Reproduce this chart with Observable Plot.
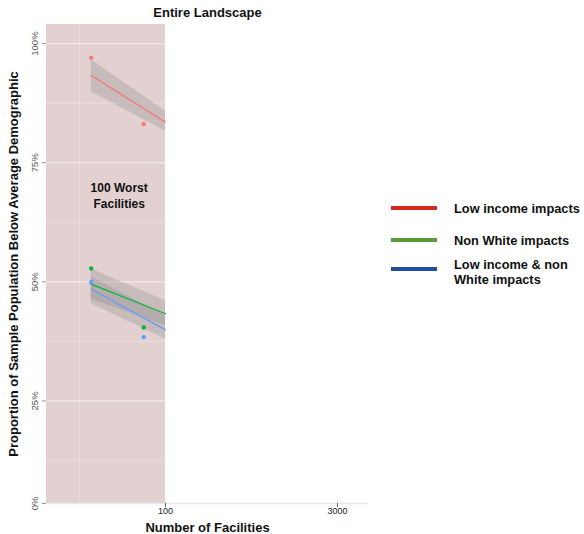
<!DOCTYPE html>
<html>
<head>
<meta charset="utf-8">
<script src="https://cdn.jsdelivr.net/npm/d3@7"></script>
<script src="https://cdn.jsdelivr.net/npm/@observablehq/plot@0.6"></script>
<style>
  html, body { margin: 0; padding: 0; background: #fff; }
  body { width: 584px; height: 534px; position: relative; overflow: hidden; font-family: "Liberation Sans", Arial, Helvetica, sans-serif; }
  #chart { position: absolute; left: 0; top: 0; }
  #legend { position: absolute; left: 391px; top: 0; }
  .swatch { position: absolute; left: 0; width: 46px; height: 4px; }
  .lab { position: absolute; left: 63px; font-weight: bold; font-size: 12.8px; line-height: 15px; color: #111; white-space: nowrap; }
</style>
</head>
<body>
<div id="chart"></div>
<div id="legend"></div>
<script>
// ---- data ----
const seriesNames = ["Low income impacts", "Non White impacts", "Low income & non White impacts"];
const pointColors = ["#F8766D", "#00BA38", "#619CFF"];
const legendColors = ["#d42a1e", "#5b9a3b", "#1f4e9c"];

const facilities = [23, 65];               // x positions of observed points
const lowIncome = [0.970, 0.831];
const nonWhite = [0.528, 0.404];
const lowIncomeNonWhite = [0.499, 0.384];

const fitX = [23, 100];                     // extent of fitted lines
const lowIncomeFit = [0.933, 0.835];
const lowIncomeLo = [0.899, 0.816];
const lowIncomeHi = [0.966, 0.858];
const nonWhiteFit = [0.495, 0.433];
const nonWhiteLo = [0.464, 0.408];
const nonWhiteHi = [0.527, 0.460];
const bothFit = [0.485, 0.399];
const bothLo = [0.454, 0.380];
const bothHi = [0.510, 0.429];

const xTicks = [100, 3000];
const yTicks = [0, 0.25, 0.5, 0.75, 1];
const yMinor = [0.125, 0.375, 0.625, 0.875];
const xGrid = [18.3, 100];
const worstRegion = [9.5, 100];
const xDomain = [9.5, 5540];
const yDomain = [0, 0.125, 1.04];

// ---- build tables ----
const obsSeries = [lowIncome, nonWhite, lowIncomeNonWhite];
const fitSeries = [[lowIncomeFit, lowIncomeLo, lowIncomeHi], [nonWhiteFit, nonWhiteLo, nonWhiteHi], [bothFit, bothLo, bothHi]];
const points = [];
obsSeries.forEach((arr, s) => arr.forEach((v, i) => points.push({s, x: facilities[i], y: v})));
const fits = [];
fitSeries.forEach(([m, lo, hi], s) => fitX.forEach((x, i) => fits.push({s, x, y: m[i], lo: lo[i], hi: hi[i]})));

const W = 584, H = 534;
const mL = 46, mR = 216, mT = 24, mB = 31;

const plot = Plot.plot({
  width: W, height: H,
  marginLeft: mL, marginRight: mR, marginTop: mT, marginBottom: mB,
  style: { fontFamily: '"Liberation Sans", Arial, Helvetica, sans-serif', background: "transparent", overflow: "visible" },
  x: { type: "log", domain: xDomain, range: [mL, W - mR] },
  y: { type: "linear", domain: yDomain, range: [H - mB, 460, mT] },
  marks: [
    // shaded "100 worst" region
    Plot.rect([0], { x1: worstRegion[0], x2: worstRegion[1], y1: yDomain[0], y2: yDomain[2], fill: "#e3d1d1" }),
    // grid within region
    Plot.ruleY(yMinor, { x1: worstRegion[0], x2: worstRegion[1], stroke: "#ffffff", strokeOpacity: 0.25, strokeWidth: 1 }),
    Plot.ruleY(yTicks.slice(1), { x1: worstRegion[0], x2: worstRegion[1], stroke: "#ffffff", strokeOpacity: 0.55, strokeWidth: 1.2 }),
    Plot.ruleX(xGrid.slice(0, 1), { y1: yDomain[0], y2: yDomain[2], stroke: "#ffffff", strokeOpacity: 0.25 }),
    // bottom axis line
    Plot.ruleY([0], { stroke: "#e8e8e8", strokeWidth: 1.5 }),
    // axes
    Plot.axisY({ ticks: yTicks, tickFormat: () => "", tickSize: 4, stroke: "#555", strokeOpacity: 0.6, label: null }),
    Plot.axisX({ ticks: xTicks, tickFormat: d => String(d), tickSize: 4, stroke: "#666", fontSize: 9, color: "#222", tickPadding: 0, label: null }),
    // y tick labels (rotated)
    Plot.text(yTicks, { y: d => d, frameAnchor: "left", dx: -12, rotate: -90, textAnchor: "middle", lineAnchor: "middle", text: d => d3.format(".0%")(d), fontSize: 9.5, fill: "#555" }),
    // confidence bands
    Plot.areaY(fits, { x: "x", y1: "lo", y2: "hi", z: "s", fill: "#8c8c8c", fillOpacity: 0.32 }),
    // fitted lines
    Plot.lineY(fits, { x: "x", y: "y", z: "s", stroke: d => pointColors[d.s], strokeWidth: 1.3 }),
    // observed points
    Plot.dot(points, { x: "x", y: "y", r: 2.2, fill: d => pointColors[d.s], stroke: "none" }),
    // annotation
    Plot.text(["100 Worst\nFacilities"], { x: 40, y: 0.683, fontSize: 12, fontWeight: "bold", fill: "#111", lineHeight: 1.35 }),
    // strip title
    Plot.text(["Entire Landscape"], { frameAnchor: "top", dy: -12, lineAnchor: "middle", fontSize: 13, fontWeight: "bold", fill: "#111" }),
    // axis titles
    Plot.text(["Number of Facilities"], { frameAnchor: "bottom", dy: 24, lineAnchor: "middle", fontSize: 13, fontWeight: "bold", fill: "#111" }),
    Plot.text(["Proportion of Sample Population Below Average Demographic"], { frameAnchor: "left", dx: -33, rotate: -90, textAnchor: "middle", lineAnchor: "middle", fontSize: 13, fontWeight: "bold", fill: "#111" })
  ]
});
document.getElementById("chart").appendChild(plot);

// legend
const legend = document.getElementById("legend");
const rowsY = [208, 240, 269];
const labelLines = [["Low income impacts"], ["Non White impacts"], ["Low income & non", "White impacts"]];
seriesNames.forEach((name, i) => {
  const sw = document.createElement("div");
  sw.className = "swatch";
  sw.style.top = (rowsY[i] - 2) + "px";
  sw.style.background = legendColors[i];
  legend.appendChild(sw);
  const lab = document.createElement("div");
  lab.className = "lab";
  lab.style.top = (i === 2 ? 264 - 7.5 : rowsY[i] - 7.5) + "px";
  lab.innerHTML = labelLines[i].map(l => l.replace("&", "&amp;")).join("<br>");
  legend.appendChild(lab);
});
</script>
</body>
</html>
